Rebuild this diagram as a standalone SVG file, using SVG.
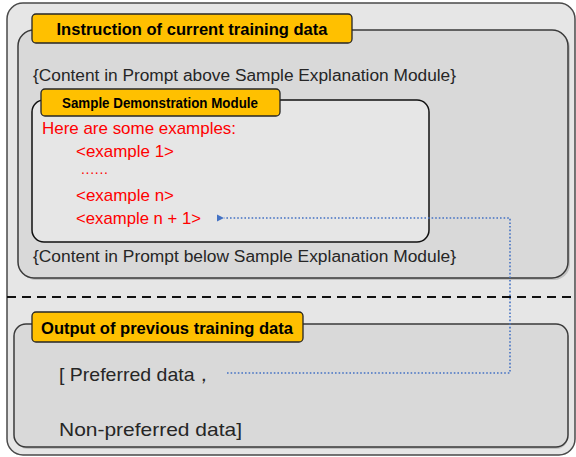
<svg xmlns="http://www.w3.org/2000/svg" width="576" height="457" viewBox="0 0 576 457">
<style>
.panel{fill:#d9d9d9;stroke:#3a3a3a;stroke-width:1.5}
.shadow{fill:#a8a8a8;opacity:0.6}
.tab{fill:#ffc000;stroke:#262626;stroke-width:1.3}
.tabt{font-family:"Liberation Sans",Arial,sans-serif;font-weight:bold;fill:#000}
.body{font-family:"Liberation Sans",Arial,sans-serif;fill:#262626}
.red{font-family:"Liberation Sans",Arial,sans-serif;fill:#ff0000}
.conn{fill:none;stroke:#4472c4;stroke-width:1.6;stroke-dasharray:1.6 2}
</style>
<defs>
<marker id="ah" markerWidth="8" markerHeight="8" refX="1" refY="4" orient="auto" markerUnits="userSpaceOnUse">
<path d="M8,0.5 L1,4 L8,7.5 Z" fill="#4472c4"/>
</marker>
</defs>
<g id="outer">
<rect x="7" y="3" width="568" height="452" rx="16" fill="#e6e6e6" stroke="#4a4a4a" stroke-width="1.5"/>
</g>
<g id="instruction-panel">
<rect x="20" y="32" width="550" height="248" rx="16" class="shadow"/>
<rect x="18" y="30" width="550" height="248" rx="16" class="panel"/>
<rect x="32" y="14" width="320" height="29" rx="4" class="tab"/>
<text x="192" y="34.5" class="tabt" font-size="17" text-anchor="middle" textLength="271" lengthAdjust="spacingAndGlyphs">Instruction of current training data</text>
<text x="33" y="81" class="body" font-size="16" textLength="423" lengthAdjust="spacingAndGlyphs">{Content in Prompt above Sample Explanation Module}</text>
<text x="33" y="262" class="body" font-size="16" textLength="423" lengthAdjust="spacingAndGlyphs">{Content in Prompt below Sample Explanation Module}</text>
</g>
<g id="sample-module">
<rect x="32" y="100" width="397" height="142" rx="12" fill="#e6e6e6" stroke="#111" stroke-width="1.5"/>
<rect x="41" y="89" width="239" height="27" rx="4" class="tab"/>
<text x="160" y="107.5" class="tabt" font-size="14" text-anchor="middle" textLength="196" lengthAdjust="spacingAndGlyphs">Sample Demonstration Module</text>
<text x="42" y="134" class="red" font-size="17" textLength="194" lengthAdjust="spacingAndGlyphs">Here are some examples:</text>
<text x="76" y="157" class="red" font-size="17" textLength="98" lengthAdjust="spacingAndGlyphs">&lt;example 1&gt;</text>
<text x="81" y="174" class="red" font-size="14" textLength="27" lengthAdjust="spacing">......</text>
<text x="76" y="201" class="red" font-size="17" textLength="98" lengthAdjust="spacingAndGlyphs">&lt;example n&gt;</text>
<text x="76" y="224" class="red" font-size="17" textLength="125" lengthAdjust="spacingAndGlyphs">&lt;example n + 1&gt;</text>
</g>
<g id="divider">
<line x1="7" y1="297" x2="575" y2="297" stroke="#111" stroke-width="2" stroke-dasharray="9 6"/>
</g>
<g id="output-panel">
<rect x="16" y="326" width="552" height="123" rx="12" class="shadow"/>
<rect x="14" y="324" width="554" height="123" rx="12" class="panel"/>
<rect x="32" y="312" width="271" height="30" rx="4" class="tab"/>
<text x="167" y="333.5" class="tabt" font-size="17" text-anchor="middle" textLength="252" lengthAdjust="spacingAndGlyphs">Output of previous training data</text>
<text x="59" y="381" class="body" font-size="19" textLength="155" lengthAdjust="spacingAndGlyphs">[ Preferred data，</text>
<text x="59" y="436" class="body" font-size="19" textLength="183" lengthAdjust="spacingAndGlyphs">Non-preferred data]</text>
</g>
<g id="connectors">
<path class="conn" d="M227,373 H510 V218 H224" marker-end="url(#ah)"/>
</g>
</svg>
